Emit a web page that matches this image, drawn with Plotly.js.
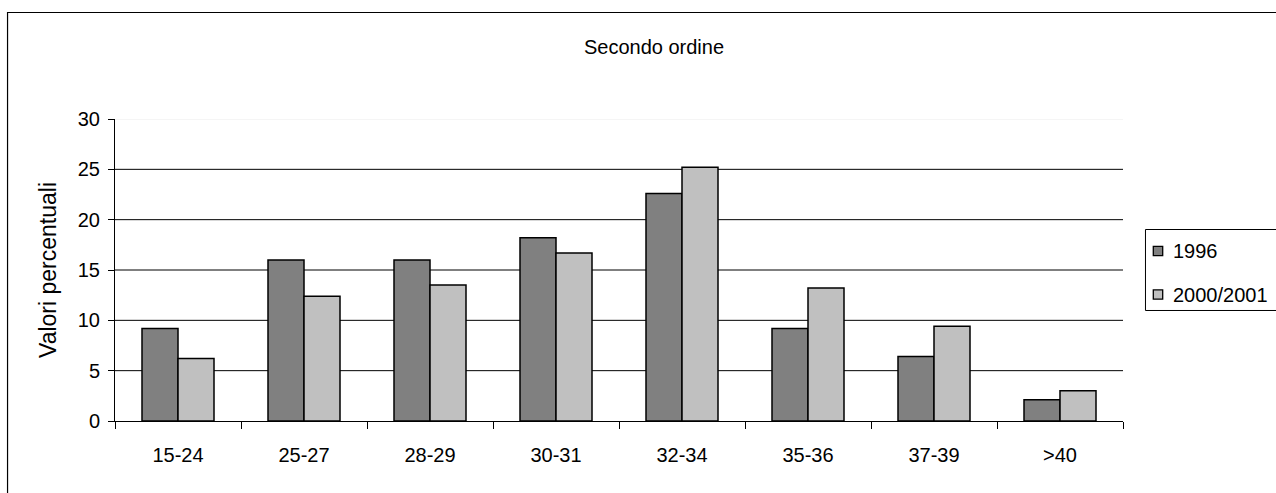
<!DOCTYPE html>
<html>
<head>
<meta charset="utf-8">
<script src="https://cdn.plot.ly/plotly-3.0.1.min.js"></script>
<style>html,body{margin:0;padding:0;background:#fff;}#chart{width:1276px;height:493px;}</style>
</head>
<body>
<div id="chart"></div>
<script>
const categories = ["15-24", "25-27", "28-29", "30-31", "32-34", "35-36", "37-39", ">40"];
const values1996 = [9.2, 16.0, 16.0, 18.2, 22.6, 9.2, 6.4, 2.1];
const values2000 = [6.2, 12.4, 13.5, 16.7, 25.2, 13.2, 9.4, 3.0];
const seriesNames = ["1996", "2000/2001"];
const seriesColors = ["#808080", "#c0c0c0"];
const yTicks = [0, 5, 10, 15, 20, 25, 30];
const gridVals = [5, 10, 15, 20, 25];

const font = "Liberation Sans, Arial, sans-serif";

const traces = [values1996, values2000].map((v, i) => ({
  type: "bar",
  x: categories,
  y: v,
  name: seriesNames[i],
  showlegend: false,
  marker: {color: seriesColors[i], line: {color: "#000", width: 1.5}},
  hoverinfo: "x+y+name"
}));

const shapes = [];
gridVals.forEach(g => shapes.push({type: "line", xref: "paper", yref: "y", x0: 0, x1: 1, y0: g, y1: g, layer: "below", line: {color: "#000", width: 1}}));
shapes.push({type: "line", xref: "paper", yref: "y", x0: 0, x1: 1, y0: 30, y1: 30, layer: "below", line: {color: "#ececec", width: 1}});
// outer chart border
shapes.push({type: "rect", xref: "paper", yref: "paper", x0: -0.1066, x1: 1.2, y0: -0.3, y1: 1.3526, line: {color: "#000", width: 1.2}, fillcolor: "rgba(0,0,0,0)"});
// legend box
shapes.push({type: "rect", xref: "paper", yref: "paper", x0: 1.0223, x1: 1.2, y0: 0.3659, y1: 0.6341, line: {color: "#000", width: 1}, fillcolor: "rgba(0,0,0,0)"});
const legendY = [251, 294.5];
const annotations = [];
seriesNames.forEach((n, i) => {
  const yc = (421 - legendY[i]) / 302;
  const half = 4.7 / 302;
  shapes.push({type: "rect", xref: "paper", yref: "paper", x0: (1153.3 - 115) / 1008, x1: (1162.7 - 115) / 1008, y0: yc - half, y1: yc + half, line: {color: "#000", width: 1.3}, fillcolor: seriesColors[i]});
  annotations.push({xref: "paper", yref: "paper", x: (1171 - 115) / 1008, y: yc, xanchor: "left", yanchor: "middle", showarrow: false, text: n, font: {family: font, size: 20, color: "#000"}});
});

const layout = {
  width: 1276, height: 493,
  margin: {l: 115, r: 153, t: 119, b: 72},
  paper_bgcolor: "#fff", plot_bgcolor: "#fff",
  font: {family: font, size: 20, color: "#000"},
  title: {text: "Secondo ordine", xref: "paper", x: 0.5347, xanchor: "center", yref: "container", y: 1 - 47 / 493, yanchor: "middle", font: {family: font, size: 20, color: "#000"}},
  barmode: "group",
  bargap: 0.4286,
  bargroupgap: 0,
  showlegend: false,
  xaxis: {
    type: "category",
    showline: true, linecolor: "#000", linewidth: 1,
    ticks: "outside", tickson: "boundaries", ticklen: 7, tickcolor: "#000", tickwidth: 1,
    ticklabelstandoff: 16,
    showgrid: false, zeroline: false,
    tickfont: {family: font, size: 20, color: "#000"}
  },
  yaxis: {
    range: [0, 30], tickvals: yTicks, ticktext: yTicks.map(String),
    showline: true, linecolor: "#000", linewidth: 1,
    ticks: "outside", ticklen: 6, tickcolor: "#000", tickwidth: 1,
    ticklabelstandoff: 4,
    showgrid: false, zeroline: false,
    tickfont: {family: font, size: 20, color: "#000"},
    title: {text: "Valori percentuali", standoff: 14, font: {family: font, size: 23, color: "#000"}}
  },
  shapes: shapes,
  annotations: annotations
};

Plotly.newPlot("chart", traces, layout, {displayModeBar: false, staticPlot: true});
</script>
</body>
</html>
